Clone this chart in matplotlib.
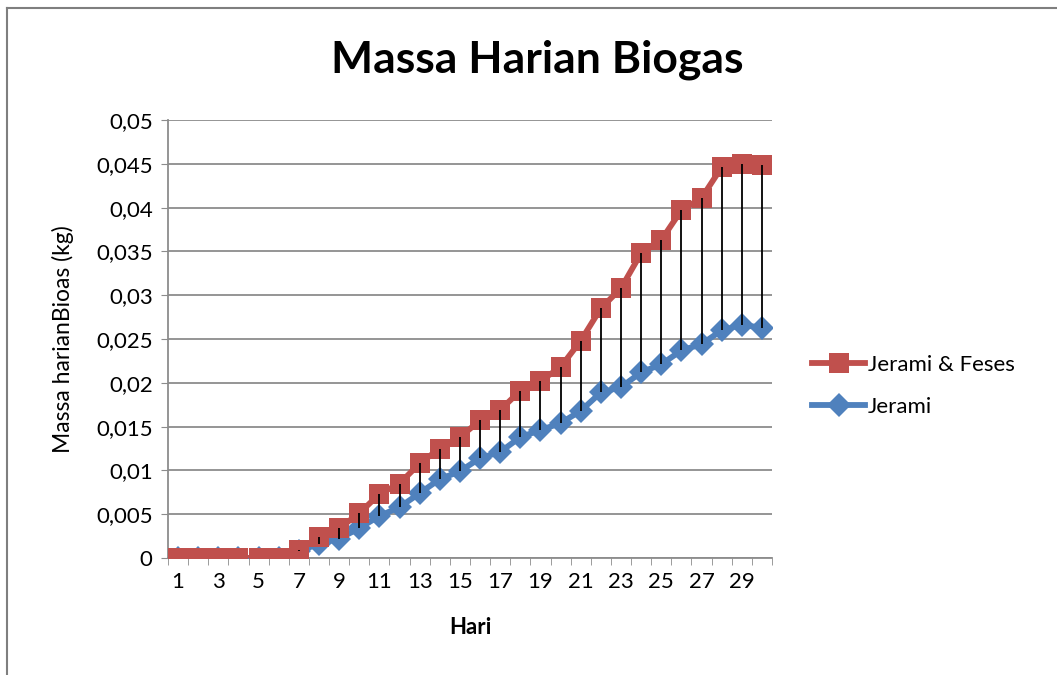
import matplotlib
matplotlib.use("Agg")
import matplotlib.pyplot as plt
from matplotlib.lines import Line2D
from matplotlib.ticker import FixedLocator, FuncFormatter

plt.rcParams["font.family"] = ["Lato", "DejaVu Sans"]

# Data
hari = list(range(1, 31))
jerami_feses = [
    0, 0, 0, 0, 0, 0, 0.0009, 0.0024, 0.0034, 0.0051,
    0.0073, 0.0085, 0.0108, 0.0125, 0.0138, 0.0157, 0.0169, 0.0191, 0.0202, 0.0218,
    0.0248, 0.0285, 0.0308, 0.0348, 0.0363, 0.0397, 0.0411, 0.0446, 0.0450, 0.0449,
]
jerami = [
    0, 0, 0, 0, 0, 0, 0.0008, 0.0016, 0.0022, 0.0034,
    0.0048, 0.0058, 0.0074, 0.0090, 0.0099, 0.0114, 0.0121, 0.0138, 0.0146, 0.0154,
    0.0168, 0.0189, 0.0195, 0.0212, 0.0221, 0.0237, 0.0244, 0.0260, 0.0266, 0.0263,
]
y_ticks = [0, 0.005, 0.01, 0.015, 0.02, 0.025, 0.03, 0.035, 0.04, 0.045, 0.05]
x_labels = list(range(1, 31, 2))

red = "#C0504D"
blue = "#4F81BD"
grid_gray = "#8C8C8C"
fs = 16

W, H = 1057, 675
fig = plt.figure(figsize=(W / 100, H / 100), dpi=100)
ax = fig.add_axes([168 / W, 1 - 558 / H, 604 / W, 438 / H])

ax.set_ylim(0, 0.05)
ax.set_xlim(0.5, 30.5)

# gridlines
ax.yaxis.set_major_locator(FixedLocator(y_ticks))
ax.grid(axis="y", color=grid_gray, linewidth=1.3, zorder=0)

# series (red on top of blue)
ax.plot(hari, jerami, color=blue, linewidth=4.2, marker="D", markersize=12.5,
        markeredgewidth=0, zorder=3, label="Jerami")
ax.plot(hari, jerami_feses, color=red, linewidth=4.2, marker="s", markersize=14,
        markeredgewidth=0, zorder=4, label="Jerami & Feses")

# high-low lines
ax.vlines(hari, jerami, jerami_feses, colors="black", linewidth=1.3, zorder=5)

# axes styling
for side in ["top", "right"]:
    ax.spines[side].set_visible(False)
ax.spines["left"].set_color(grid_gray)
ax.spines["bottom"].set_color(grid_gray)
ax.spines["left"].set_linewidth(1.3)
ax.spines["bottom"].set_linewidth(1.3)

ax.yaxis.set_major_formatter(FuncFormatter(lambda v, p: ("%g" % v).replace(".", ",")))
ax.tick_params(axis="y", direction="out", length=5, color=grid_gray, labelsize=fs, pad=6)

ax.set_xticks(x_labels)
ax.set_xticklabels([str(x) for x in x_labels])
ax.set_xticks([i + 0.5 for i in range(0, 31)], minor=True)
ax.tick_params(axis="x", which="major", length=0, labelsize=fs, pad=10)
ax.tick_params(axis="x", which="minor", direction="out", length=5, color=grid_gray)

ax.set_xlabel("Hari", fontsize=fs, fontweight="bold", labelpad=18)
ax.set_ylabel("Massa harianBioas (kg)", fontsize=16.5, labelpad=16)

fig.text(537 / W, 1 - 60 / H, "Massa Harian Biogas", ha="center", va="center",
         fontsize=32, fontweight="bold")

# legend
handles = [
    Line2D([], [], color=red, linewidth=4.2, marker="s", markersize=14, markeredgewidth=0),
    Line2D([], [], color=blue, linewidth=4.2, marker="D", markersize=12.5, markeredgewidth=0),
]
fig.legend(handles, ["Jerami & Feses", "Jerami"], loc="center left",
           bbox_to_anchor=(792 / W, 1 - 386 / H), frameon=False, fontsize=fs,
           handlelength=2.4, handletextpad=0.1, labelspacing=1.0)

# outer chart border (left and top visible)
fig.add_artist(Line2D([7 / W, 7 / W], [0, 1 - 8 / H], color="#7F7F7F", linewidth=1.5))
fig.add_artist(Line2D([7 / W, 1], [1 - 8 / H, 1 - 8 / H], color="#7F7F7F", linewidth=1.5))

fig.savefig("out.png", dpi=100)
